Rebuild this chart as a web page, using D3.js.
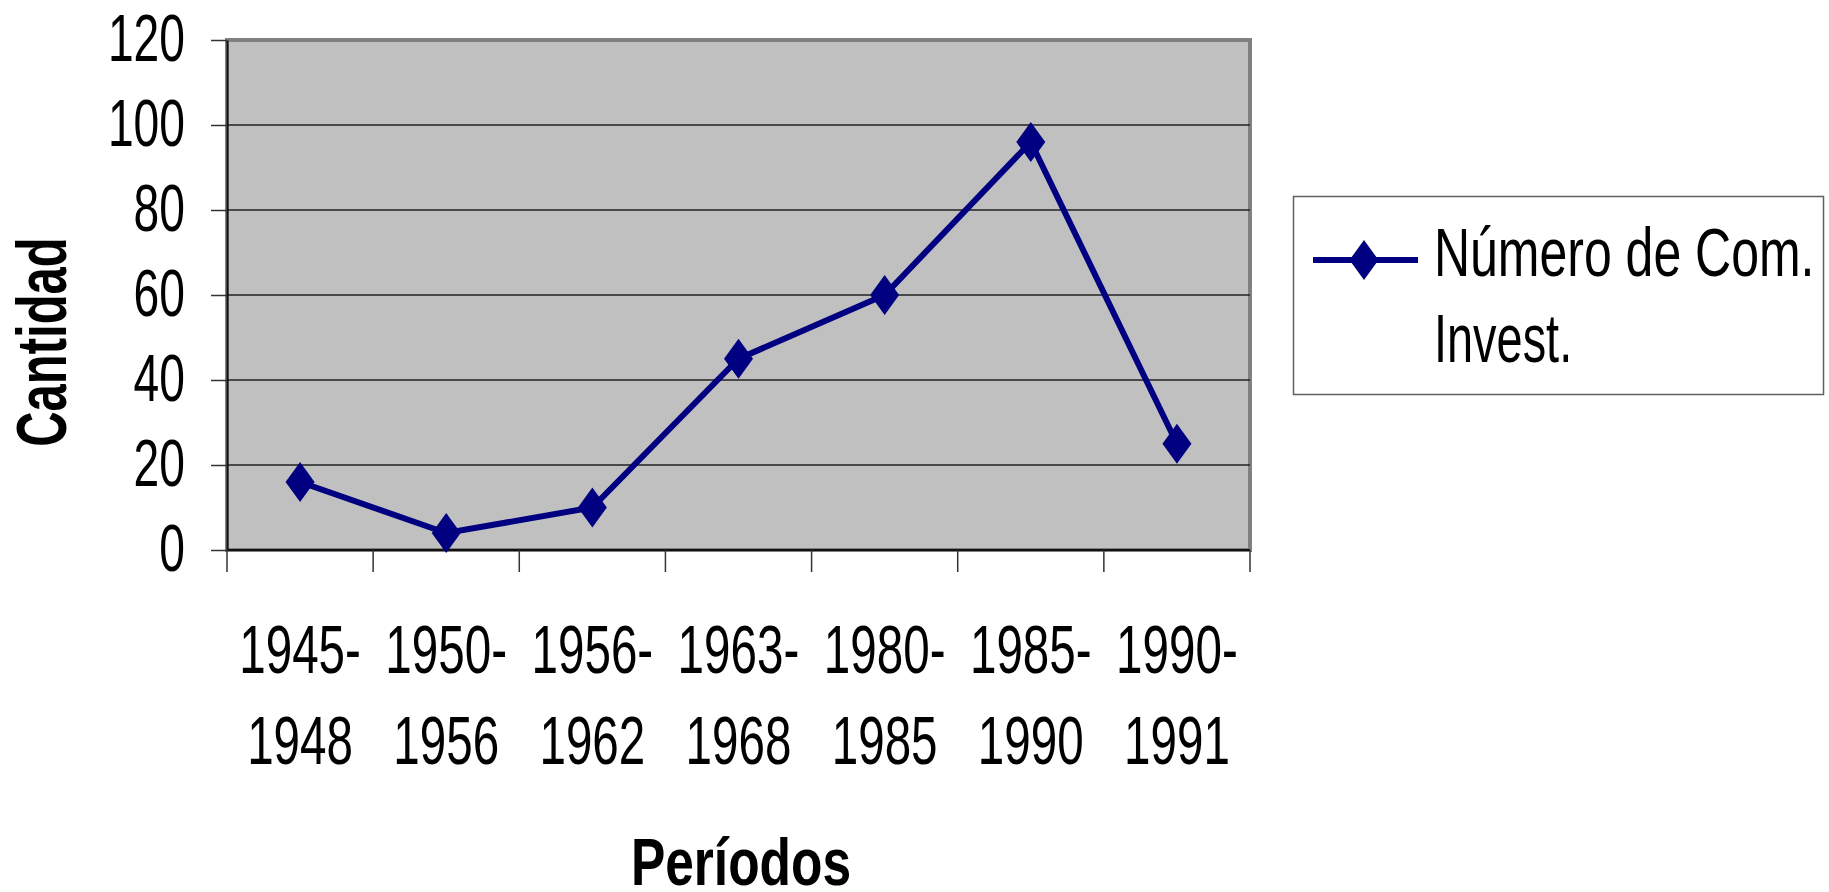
<!DOCTYPE html>
<html>
<head>
<meta charset="utf-8">
<script src="https://cdn.jsdelivr.net/npm/d3@7"></script>
<style>
	body { margin: 0; background: #fff; }
	svg { display: block; font-family: 'Liberation Sans', Arial, sans-serif; }
</style>
</head>
<body>
<script>
// datos
let periodos = [['1945-', '1948'], ['1950-', '1956'], ['1956-', '1962'], ['1963-', '1968'], ['1980-', '1985'], ['1985-', '1990'], ['1990-', '1991']]
let comisiones = [16, 4, 10, 45, 60, 96, 25]
let yTicks = [0, 20, 40, 60, 80, 100, 120]
let serieNombre = ['Número de Com.', 'Invest.']

let width = 1829, height = 892
let navy = '#000080'

let svg = d3.select('body').append('svg')
	.attr('width', width)
	.attr('height', height)

let x = d3.scaleBand()
	.domain(periodos.map((d, i) => i))
	.range([227, 1250])
let y = d3.scaleLinear()
	.domain([0, 120])
	.range([550, 40])

// texto comprimido (letra angosta)
function txt(g, px, py, s, size, anchor, sx, weight, rot) {
	return g.append('text')
		.attr('transform', `translate(${px},${py})` + (rot ? ` rotate(${rot})` : '') + ` scale(${sx},1)`)
		.attr('text-anchor', anchor)
		.attr('font-size', size)
		.attr('font-weight', weight || 'normal')
		.text(s)
}

// area del grafico
svg.append('rect')
	.attr('x', x.range()[0])
	.attr('y', y(120))
	.attr('width', x.range()[1] - x.range()[0])
	.attr('height', y(0) - y(120))
	.attr('fill', '#c0c0c0')
	.attr('stroke', '#808080')
	.attr('stroke-width', 4)

// lineas de division
svg.append('g')
	.selectAll('line')
	.data(yTicks.filter(d => d > 0 && d < 120))
	.join('line')
	.attr('x1', x.range()[0])
	.attr('x2', x.range()[1])
	.attr('y1', d => y(d))
	.attr('y2', d => y(d))
	.attr('stroke', '#222')
	.attr('stroke-width', 1.5)

// ejes
let yAxis = svg.append('g')
	.attr('transform', `translate(${x.range()[0]},0)`)
	.call(d3.axisLeft(y).tickValues(yTicks).tickSize(16).tickSizeOuter(0).tickFormat(''))
yAxis.select('.domain').attr('stroke', '#111').attr('stroke-width', 2)
yAxis.selectAll('.tick line').attr('stroke', '#333').attr('stroke-width', 1.5)

let bounds = periodos.map((d, i) => x(i)).concat([x.range()[1]])
let xAxis = svg.append('g')
	.attr('transform', `translate(0,${y(0)})`)
xAxis.append('line')
	.attr('x1', x.range()[0]).attr('x2', x.range()[1])
	.attr('stroke', '#111').attr('stroke-width', 2)
xAxis.selectAll('.tk')
	.data(bounds)
	.join('line')
	.attr('class', 'tk')
	.attr('x1', d => d).attr('x2', d => d)
	.attr('y1', 0).attr('y2', 22)
	.attr('stroke', '#333').attr('stroke-width', 1.5)

// etiquetas eje y
let yl = svg.append('g')
yTicks.forEach(v => txt(yl, 185, y(v) + 21, String(v), 67, 'end', 0.69))

// etiquetas eje x
let xl = svg.append('g')
periodos.forEach((p, i) => {
	let cx = x(i) + x.bandwidth() / 2
	txt(xl, cx, 673, p[0], 69, 'middle', 0.69)
	txt(xl, cx, 764, p[1], 69, 'middle', 0.69)
})

// titulos
txt(svg, 741, 885, 'Períodos', 66, 'middle', 0.78, 'bold')
txt(svg, 66, 342, 'Cantidad', 70, 'middle', 0.7, 'bold', -90)

// serie
let px = (d, i) => x(i) + x.bandwidth() / 2
let line = d3.line()
	.x(px)
	.y(d => y(d))
svg.append('path')
	.datum(comisiones)
	.attr('d', line)
	.attr('fill', 'none')
	.attr('stroke', navy)
	.attr('stroke-width', 6)
	.attr('stroke-linejoin', 'miter')

let diamond = 'M0,-20L14.5,0L0,20L-14.5,0Z'
svg.append('g')
	.selectAll('path')
	.data(comisiones)
	.join('path')
	.attr('transform', (d, i) => `translate(${px(d, i)},${y(d)})`)
	.attr('d', diamond)
	.attr('fill', navy)

// leyenda
let lg = svg.append('g')
lg.append('rect')
	.attr('x', 1293.5).attr('y', 196.5)
	.attr('width', 530).attr('height', 198)
	.attr('fill', '#fff')
	.attr('stroke', '#606060')
	.attr('stroke-width', 1.5)
lg.append('line')
	.attr('x1', 1313).attr('x2', 1418)
	.attr('y1', 260).attr('y2', 260)
	.attr('stroke', navy).attr('stroke-width', 6)
lg.append('path')
	.attr('transform', 'translate(1364,260)')
	.attr('d', diamond)
	.attr('fill', navy)
txt(lg, 1434, 276, serieNombre[0], 68, 'start', 0.735)
txt(lg, 1434, 362, serieNombre[1], 68, 'start', 0.69)
</script>
</body>
</html>
